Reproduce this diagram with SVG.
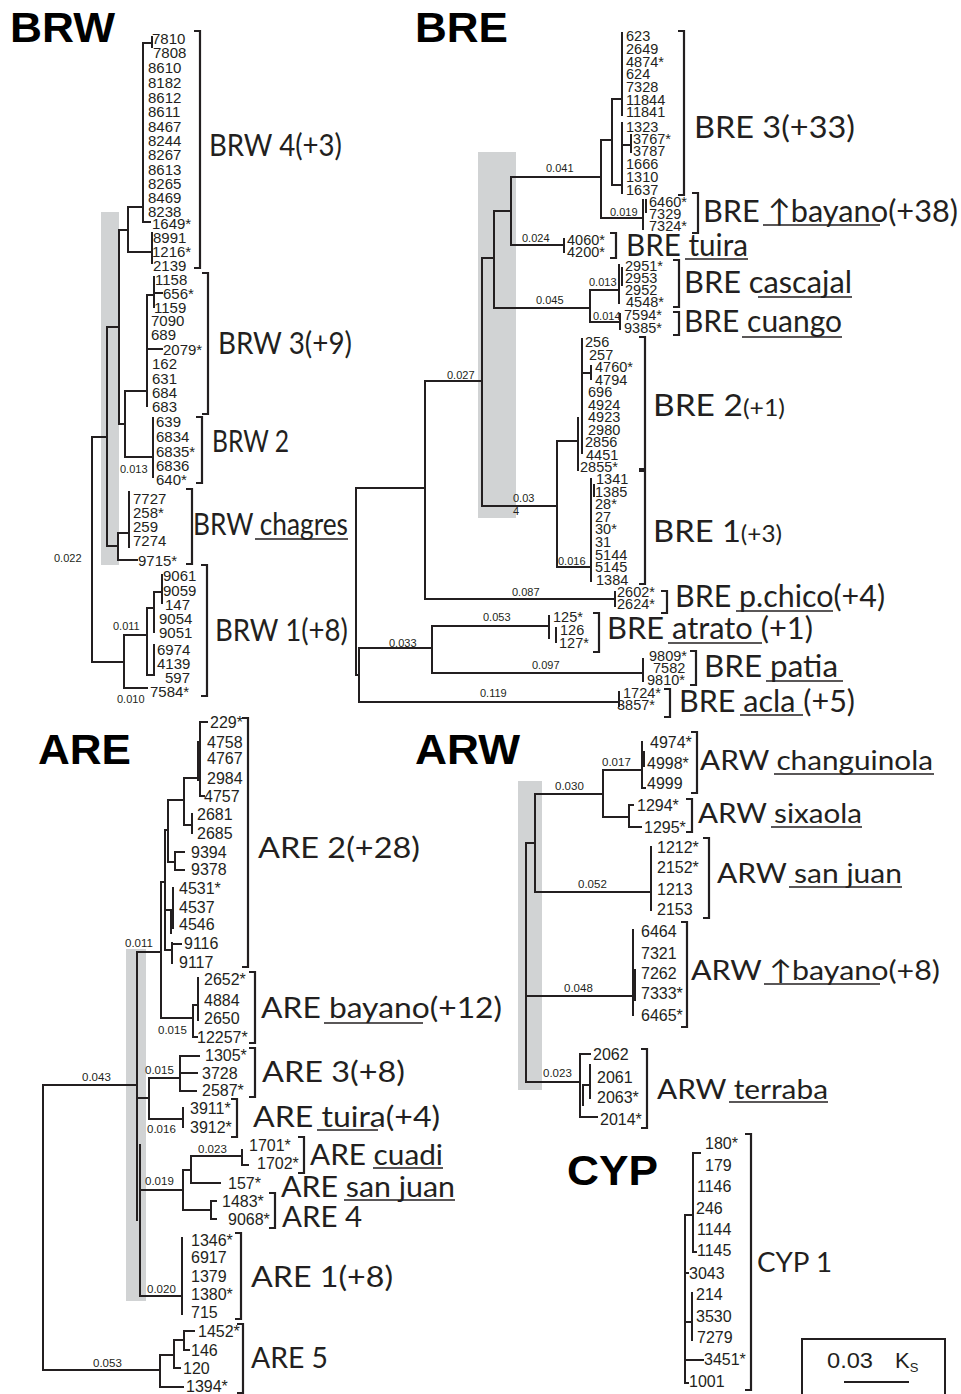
<svg xmlns="http://www.w3.org/2000/svg" width="961" height="1394" viewBox="0 0 961 1394">
<style>
.bg{fill:#ffffff}
.gb{fill:#d1d3d4}
.tr{fill:none;stroke:#231f20;stroke-width:2;stroke-linecap:square}
.br{fill:none;stroke:#231f20;stroke-width:2.2}
.ul{stroke:#231f20;stroke-width:1.6}
.tt{font-family:"Liberation Sans",Arial,sans-serif;font-weight:bold;font-size:42px;fill:#000}
.lf{font-family:"Liberation Sans",Arial,sans-serif;font-size:16px;fill:#231f20}
.lw{font-family:"Liberation Sans",Arial,sans-serif;font-size:15px;fill:#231f20}
.le{font-family:"Liberation Sans",Arial,sans-serif;font-size:14.5px;fill:#231f20}
.bl{font-family:"Liberation Sans",Arial,sans-serif;font-size:11px;fill:#231f20}
.bl2{font-family:"Liberation Sans",Arial,sans-serif;font-size:11.5px;fill:#231f20}
.cl{font-family:Lato,"Open Sans",sans-serif;font-weight:400;font-size:31px;fill:#231f20}
.ca{font-family:Lato,"Open Sans",sans-serif;font-weight:400;font-size:29px;fill:#231f20}
.cw{font-family:Lato,"Open Sans",sans-serif;font-weight:400;font-size:27px;fill:#231f20}
</style>
<rect class="bg" x="0" y="0" width="961" height="1394"/>

<!-- ================= BRW ================= -->
<g id="brw-panel">
<text class="tt" x="10" y="42" textLength="105" lengthAdjust="spacingAndGlyphs">BRW</text>
<rect class="gb" x="101" y="212" width="18" height="353"/>
<g id="brw-connectors">
<path class="tr" d="M92,437V662M92,437H107M92,662H124
M107,327V546M107,327H119M119,230V424M119,230H128M128,207V252M128,207H143M143,43V222M143,43H152M152,37V47M143,222H150M128,252H152M152,233V263
M119,424H125M125,391V457M125,391H147M147,295V406M147,295H154M154,277V307M154,293H162M147,349H162M125,457H153M153,418V477
M107,546H118M118,533V560M118,533H129M129,492V547M118,560H137
M124,635V688M124,635H147M124,688H147M147,608V675M147,608H154M154,592V632M154,592H162M162,575V603M147,675H154M154,645V675"/>
<text class="bl" x="54" y="562">0.022</text>
<text class="bl" x="120" y="473">0.013</text>
<text class="bl" x="113" y="630">0.011</text>
<text class="bl" x="117" y="703">0.010</text>
</g>
<g id="brw4">
<text class="lw" x="152" y="44">7810</text><text class="lw" x="153" y="58">7808</text><text class="lw" x="148" y="73">8610</text><text class="lw" x="148" y="88">8182</text><text class="lw" x="148" y="103">8612</text><text class="lw" x="148" y="117">8611</text><text class="lw" x="148" y="132">8467</text><text class="lw" x="148" y="146">8244</text><text class="lw" x="148" y="160">8267</text><text class="lw" x="148" y="175">8613</text><text class="lw" x="148" y="189">8265</text><text class="lw" x="148" y="203">8469</text><text class="lw" x="148" y="217">8238</text><text class="lw" x="152" y="229">1649*</text><text class="lw" x="153" y="243">8991</text><text class="lw" x="152" y="257">1216*</text><text class="lw" x="153" y="271">2139</text>
<path class="br" d="M194,31H200V268H194"/>
<text class="cl" x="209" y="156" textLength="133" lengthAdjust="spacingAndGlyphs">BRW 4(+3)</text>
</g>
<g id="brw3">
<text class="lw" x="155" y="285">1158</text><text class="lw" x="163" y="299">656*</text><text class="lw" x="154" y="313">1159</text><text class="lw" x="151" y="326">7090</text><text class="lw" x="151" y="340">689</text><text class="lw" x="163" y="355">2079*</text><text class="lw" x="152" y="369">162</text><text class="lw" x="152" y="384">631</text><text class="lw" x="152" y="398">684</text><text class="lw" x="152" y="412">683</text>
<path class="br" d="M202,273H208V414H202"/>
<text class="cl" x="218" y="354" textLength="134" lengthAdjust="spacingAndGlyphs">BRW 3(+9)</text>
</g>
<g id="brw2">
<text class="lw" x="156" y="427">639</text><text class="lw" x="156" y="442">6834</text><text class="lw" x="156" y="457">6835*</text><text class="lw" x="156" y="471">6836</text><text class="lw" x="156" y="485">640*</text>
<path class="br" d="M196,417H202V483H196"/>
<text class="cl" x="212" y="452" textLength="77" lengthAdjust="spacingAndGlyphs">BRW 2</text>
</g>
<g id="brw-chagres">
<text class="lw" x="133" y="504">7727</text><text class="lw" x="133" y="518">258*</text><text class="lw" x="133" y="532">259</text><text class="lw" x="133" y="546">7274</text><text class="lw" x="138" y="566">9715*</text>
<path class="br" d="M186,489H192V564H186"/>
<text class="cl" x="193" y="535" textLength="155" lengthAdjust="spacingAndGlyphs">BRW chagres</text>
<line class="ul" x1="255" y1="539" x2="348" y2="539"/>
</g>
<g id="brw1">
<text class="lw" x="163" y="581">9061</text><text class="lw" x="163" y="596">9059</text><text class="lw" x="165" y="610">147</text><text class="lw" x="159" y="624">9054</text><text class="lw" x="159" y="638">9051</text><text class="lw" x="157" y="655">6974</text><text class="lw" x="157" y="669">4139</text><text class="lw" x="165" y="683">597</text><text class="lw" x="150" y="697">7584*</text>
<path class="br" d="M201,565H207V696H201"/>
<text class="cl" x="215" y="641" textLength="133" lengthAdjust="spacingAndGlyphs">BRW 1(+8)</text>
</g>
</g>

<!-- ================= BRE ================= -->
<g id="bre-panel">
<text class="tt" x="415" y="42" textLength="93" lengthAdjust="spacingAndGlyphs">BRE</text>
<rect class="gb" x="478" y="152" width="38" height="366"/>
<g id="bre-connectors">
<path class="tr" d="M356,488V675M356,488H425M356,675H359M359,648V702M359,648H432M359,702H619
M425,381V599M425,381H482M425,599H615M615,592V606
M482,258V506M482,258H494M482,506H557
M494,211V308M494,211H511M494,308H590
M511,177V245M511,177H601M511,245H564M564,239V252
M601,140V218M601,140H612M601,218H643M643,200V229M646,200V212
M612,99V185M612,99H622M612,185H622M622,33V115M622,123V193M622,145H631M631,135V152
M590,290V322M590,290H619M590,322H620M619,265V303M622,268V285M620,314V329
M557,441V567M557,441H578M557,567H591M578,418V470M582,339V453M582,373H591M591,366V379M591,479V581M594,485V496
M432,626V673M432,626H549M432,673H643M549,616V638M556,628V642M643,659V681
M619,692V706"/>
<text class="bl" x="546" y="172">0.041</text>
<text class="bl" x="610" y="216">0.019</text>
<text class="bl" x="522" y="242">0.024</text>
<text class="bl" x="536" y="304">0.045</text>
<text class="bl" x="589" y="286" font-size="10">0.013</text>
<text class="bl" x="593" y="320" font-size="10">0.014</text>
<text class="bl" x="447" y="379">0.027</text>
<text class="bl" x="513" y="502">0.03</text>
<text class="bl" x="513" y="515">4</text>
<text class="bl" x="558" y="565">0.016</text>
<text class="bl" x="512" y="596">0.087</text>
<text class="bl" x="483" y="621">0.053</text>
<text class="bl" x="389" y="647">0.033</text>
<text class="bl" x="532" y="669">0.097</text>
<text class="bl" x="480" y="697">0.119</text>
</g>
<g id="bre3">
<text class="le" x="626" y="41">623</text><text class="le" x="626" y="54">2649</text><text class="le" x="626" y="67">4874*</text><text class="le" x="626" y="79">624</text><text class="le" x="626" y="92">7328</text><text class="le" x="626" y="105">11844</text><text class="le" x="626" y="117">11841</text><text class="le" x="626" y="132">1323</text><text class="le" x="633" y="144">3767*</text><text class="le" x="633" y="156">3787</text><text class="le" x="626" y="169">1666</text><text class="le" x="626" y="182">1310</text><text class="le" x="626" y="195">1637</text>
<path class="br" d="M678,31H684V195H678"/>
<text class="cl" x="694" y="138" textLength="161" lengthAdjust="spacingAndGlyphs">BRE 3(+33)</text>
</g>
<g id="bre-bayano">
<text class="le" x="649" y="207">6460*</text><text class="le" x="649" y="219">7329</text><text class="le" x="649" y="231">7324*</text>
<path class="br" d="M692,193H698V233H692"/>
<text class="cl" x="703" y="222" textLength="255" lengthAdjust="spacingAndGlyphs">BRE ↑bayano(+38)</text>
<line class="ul" x1="763" y1="225" x2="880" y2="225"/>
</g>
<g id="bre-tuira">
<text class="le" x="567" y="245">4060*</text><text class="le" x="567" y="257">4200*</text>
<path class="br" d="M610,233H616V258H610"/>
<text class="cl" x="626" y="256" textLength="122" lengthAdjust="spacingAndGlyphs">BRE tuira</text>
<line class="ul" x1="685" y1="259" x2="748" y2="259"/>
</g>
<g id="bre-cascajal">
<text class="le" x="625" y="271">2951*</text><text class="le" x="625" y="283">2953</text><text class="le" x="625" y="295">2952</text><text class="le" x="626" y="307">4548*</text>
<path class="br" d="M673,260H679V307H673"/>
<text class="cl" x="684" y="293" textLength="168" lengthAdjust="spacingAndGlyphs">BRE cascajal</text>
<line class="ul" x1="758" y1="297" x2="852" y2="297"/>
</g>
<g id="bre-cuango">
<text class="le" x="624" y="320">7594*</text><text class="le" x="624" y="333">9385*</text>
<path class="br" d="M673,312H679V335H673"/>
<text class="cl" x="684" y="332" textLength="158" lengthAdjust="spacingAndGlyphs">BRE cuango</text>
<line class="ul" x1="742" y1="337" x2="842" y2="337"/>
</g>
<g id="bre2">
<text class="le" x="585" y="347">256</text><text class="le" x="589" y="359.5">257</text><text class="le" x="595" y="372">4760*</text><text class="le" x="595" y="384.5">4794</text><text class="le" x="588" y="397">696</text><text class="le" x="588" y="409.5">4924</text><text class="le" x="588" y="422">4923</text><text class="le" x="588" y="434.5">2980</text><text class="le" x="585" y="447">2856</text><text class="le" x="586" y="459.5">4451</text><text class="le" x="580" y="472">2855*</text>
<path class="br" d="M639,337H645V469H639"/>
<text class="cl" x="653" y="416" textLength="132" lengthAdjust="spacingAndGlyphs">BRE 2<tspan font-size="23">(+1)</tspan></text>
</g>
<g id="bre1">
<text class="le" x="596" y="484">1341</text><text class="le" x="595" y="496.6">1385</text><text class="le" x="595" y="509.2">28*</text><text class="le" x="595" y="521.8">27</text><text class="le" x="595" y="534.4">30*</text><text class="le" x="595" y="547">31</text><text class="le" x="595" y="559.6">5144</text><text class="le" x="595" y="572.2">5145</text><text class="le" x="596" y="584.8">1384</text>
<path class="br" d="M639,471H645V584H639"/>
<text class="cl" x="653" y="542" textLength="129" lengthAdjust="spacingAndGlyphs">BRE 1<tspan font-size="23">(+3)</tspan></text>
</g>
<g id="bre-pchico">
<text class="le" x="617" y="597">2602*</text><text class="le" x="617" y="609">2624*</text>
<path class="br" d="M661,591H667V613H661"/>
<text class="cl" x="675" y="607" textLength="210" lengthAdjust="spacingAndGlyphs">BRE p.chico(+4)</text>
<line class="ul" x1="736" y1="611" x2="833" y2="611"/>
</g>
<g id="bre-atrato">
<text class="le" x="553" y="622">125*</text><text class="le" x="560" y="635">126</text><text class="le" x="559" y="648">127*</text>
<path class="br" d="M593,613H599V652H593"/>
<text class="cl" x="607" y="639" textLength="206" lengthAdjust="spacingAndGlyphs">BRE atrato (+1)</text>
<line class="ul" x1="668" y1="643" x2="762" y2="643"/>
</g>
<g id="bre-patia">
<text class="le" x="649" y="661">9809*</text><text class="le" x="653" y="673">7582</text><text class="le" x="647" y="685">9810*</text>
<path class="br" d="M690,651H696V685H690"/>
<text class="cl" x="704" y="677" textLength="134" lengthAdjust="spacingAndGlyphs">BRE patia</text>
<line class="ul" x1="766" y1="681" x2="843" y2="681"/>
</g>
<g id="bre-acla">
<text class="le" x="623" y="698">1724*</text><text class="le" x="617" y="710">3857*</text>
<path class="br" d="M664,689H670V717H664"/>
<text class="cl" x="679" y="712" textLength="176" lengthAdjust="spacingAndGlyphs">BRE acla (+5)</text>
<line class="ul" x1="740" y1="715" x2="803" y2="715"/>
</g>
</g>

<!-- ================= ARE ================= -->
<g id="are-panel">
<text class="tt" x="38" y="764" textLength="93" lengthAdjust="spacingAndGlyphs">ARE</text>
<rect class="gb" x="126" y="949" width="20" height="352"/>
<g id="are-connectors">
<path class="tr" d="M43,1085V1370M43,1085H137M43,1370H160
M160,1355V1387M160,1355H174M174,1340V1368M174,1340H184M184,1331V1350M184,1331H194M184,1350H189M174,1368H180M160,1387H183
M137,952V1220M140,1145V1296M137,952H161M161,882V1018M161,882H165M165,830V950
M165,830H168M168,800V862M168,800H184M184,778V825M184,778H200M200,722V796M200,722H207M200,796H204M198,742V780M184,825H192M192,814V833
M168,862H175M175,852V870M175,852H184M175,870H184
M165,910H173M173,888V928M171,912V933M165,950H172M172,943V963M172,944H181
M161,1018H193M193,1005V1037M193,1037H197M193,1005H198M198,978V1020
M137,1098H149M149,1078V1119M149,1078H180M180,1056V1091M180,1056H199M180,1073H197M180,1091H196M149,1119H183M183,1108V1127
M140,1190H183M183,1170V1210M183,1170H191M191,1156V1183M191,1156H242M242,1150V1165M242,1165H248M191,1183H220M183,1210H211M211,1201V1219M211,1201H216M211,1219H216
M140,1296H182M182,1238V1314"/>
<text class="bl2" x="125" y="947">0.011</text>
<text class="bl2" x="158" y="1034">0.015</text>
<text class="bl2" x="82" y="1081">0.043</text>
<text class="bl2" x="145" y="1074">0.015</text>
<text class="bl2" x="147" y="1133">0.016</text>
<text class="bl2" x="198" y="1153">0.023</text>
<text class="bl2" x="145" y="1185">0.019</text>
<text class="bl2" x="147" y="1293">0.020</text>
<text class="bl2" x="93" y="1367">0.053</text>
</g>
<g id="are2">
<text class="lf" x="210" y="728">229*</text><text class="lf" x="207" y="748">4758</text><text class="lf" x="207" y="764">4767</text><text class="lf" x="207" y="784">2984</text><text class="lf" x="204" y="802">4757</text><text class="lf" x="197" y="820">2681</text><text class="lf" x="197" y="839">2685</text><text class="lf" x="191" y="858">9394</text><text class="lf" x="191" y="875">9378</text><text class="lf" x="179" y="894">4531*</text><text class="lf" x="179" y="913">4537</text><text class="lf" x="179" y="930">4546</text><text class="lf" x="184" y="949">9116</text><text class="lf" x="179" y="968">9117</text>
<path class="br" d="M242,718H248V967H242"/>
<text class="ca" x="258" y="858" textLength="162" lengthAdjust="spacingAndGlyphs">ARE 2(+28)</text>
</g>
<g id="are-bayano">
<text class="lf" x="204" y="985">2652*</text><text class="lf" x="204" y="1006">4884</text><text class="lf" x="204" y="1024">2650</text><text class="lf" x="197" y="1043">12257*</text>
<path class="br" d="M249,972H255V1043H249"/>
<text class="ca" x="261" y="1018" textLength="241" lengthAdjust="spacingAndGlyphs">ARE bayano(+12)</text>
<line class="ul" x1="324" y1="1023" x2="423" y2="1023"/>
</g>
<g id="are3">
<text class="lf" x="205" y="1061">1305*</text><text class="lf" x="202" y="1079">3728</text><text class="lf" x="202" y="1096">2587*</text>
<path class="br" d="M249,1048H255V1097H249"/>
<text class="ca" x="262" y="1082" textLength="143" lengthAdjust="spacingAndGlyphs">ARE 3(+8)</text>
</g>
<g id="are-tuira">
<text class="lf" x="190" y="1114">3911*</text><text class="lf" x="190" y="1133">3912*</text>
<path class="br" d="M231,1099H237V1137H231"/>
<text class="ca" x="253" y="1127" textLength="187" lengthAdjust="spacingAndGlyphs">ARE tuira(+4)</text>
<line class="ul" x1="317" y1="1130" x2="378" y2="1130"/>
</g>
<g id="are-cuadi">
<text class="lf" x="249" y="1151">1701*</text><text class="lf" x="257" y="1169">1702*</text>
<path class="br" d="M298,1137H304V1173H298"/>
<text class="ca" x="310" y="1165" textLength="133" lengthAdjust="spacingAndGlyphs">ARE cuadi</text>
<line class="ul" x1="373" y1="1168" x2="443" y2="1168"/>
</g>
<g id="are-sanjuan">
<text class="lf" x="228" y="1189">157*</text>
<text class="ca" x="281" y="1197" textLength="174" lengthAdjust="spacingAndGlyphs">ARE san juan</text>
<line class="ul" x1="344" y1="1200" x2="455" y2="1200"/>
</g>
<g id="are4">
<text class="lf" x="222" y="1207">1483*</text><text class="lf" x="228" y="1225">9068*</text>
<path class="br" d="M269,1193H275V1228H269"/>
<text class="ca" x="282" y="1227" textLength="80" lengthAdjust="spacingAndGlyphs">ARE 4</text>
</g>
<g id="are1">
<text class="lf" x="191" y="1246">1346*</text><text class="lf" x="191" y="1263">6917</text><text class="lf" x="191" y="1282">1379</text><text class="lf" x="191" y="1300">1380*</text><text class="lf" x="191" y="1318">715</text>
<path class="br" d="M235,1233H241V1319H235"/>
<text class="ca" x="251" y="1287" textLength="142" lengthAdjust="spacingAndGlyphs">ARE 1(+8)</text>
</g>
<g id="are5">
<text class="lf" x="198" y="1337">1452*</text><text class="lf" x="191" y="1356">146</text><text class="lf" x="183" y="1374">120</text><text class="lf" x="186" y="1392">1394*</text>
<path class="br" d="M237,1324H243V1393H237"/>
<text class="ca" x="251" y="1368" textLength="77" lengthAdjust="spacingAndGlyphs">ARE 5</text>
</g>
</g>

<!-- ================= ARW ================= -->
<g id="arw-panel">
<text class="tt" x="415" y="764" textLength="105" lengthAdjust="spacingAndGlyphs">ARW</text>
<rect class="gb" x="518" y="781" width="24" height="309"/>
<g id="arw-connectors">
<path class="tr" d="M526,843V1082M526,843H535M535,794V892M535,794H603M603,770V817M603,770H642M642,742V788M644,752V766M642,788H645M603,817H629M629,805V827M629,805H633M629,827H641
M535,892H650M651,847V910
M526,996H632M633,930V1015M635,970V1000
M526,1082H580M580,1054V1117M580,1054H590M580,1117H597M583,1085V1105M590,1065V1098M583,1085H590"/>
<text class="bl2" x="602" y="766">0.017</text>
<text class="bl2" x="555" y="790">0.030</text>
<text class="bl2" x="578" y="888">0.052</text>
<text class="bl2" x="564" y="992">0.048</text>
<text class="bl2" x="543" y="1077">0.023</text>
</g>
<g id="arw-changuinola">
<text class="lf" x="650" y="748">4974*</text><text class="lf" x="647" y="769">4998*</text><text class="lf" x="647" y="789">4999</text>
<path class="br" d="M691,732H697V793H691"/>
<text class="cw" x="700" y="770" textLength="233" lengthAdjust="spacingAndGlyphs">ARW changuinola</text>
<line class="ul" x1="774" y1="774" x2="934" y2="774"/>
</g>
<g id="arw-sixaola">
<text class="lf" x="637" y="811">1294*</text><text class="lf" x="644" y="833">1295*</text>
<path class="br" d="M686,799H692V832H686"/>
<text class="cw" x="698" y="823" textLength="164" lengthAdjust="spacingAndGlyphs">ARW sixaola</text>
<line class="ul" x1="771" y1="827" x2="862" y2="827"/>
</g>
<g id="arw-sanjuan">
<text class="lf" x="657" y="853">1212*</text><text class="lf" x="657" y="873">2152*</text><text class="lf" x="657" y="895">1213</text><text class="lf" x="657" y="915">2153</text>
<path class="br" d="M703,838H709V918H703"/>
<text class="cw" x="717" y="883" textLength="185" lengthAdjust="spacingAndGlyphs">ARW san juan</text>
<line class="ul" x1="789" y1="887" x2="902" y2="887"/>
</g>
<g id="arw-bayano">
<text class="lf" x="641" y="937">6464</text><text class="lf" x="641" y="959">7321</text><text class="lf" x="641" y="979">7262</text><text class="lf" x="641" y="999">7333*</text><text class="lf" x="641" y="1021">6465*</text>
<path class="br" d="M681,922H687V1027H681"/>
<text class="cw" x="691" y="980" textLength="249" lengthAdjust="spacingAndGlyphs">ARW ↑bayano(+8)</text>
<line class="ul" x1="764" y1="984" x2="880" y2="984"/>
</g>
<g id="arw-terraba">
<text class="lf" x="593" y="1060">2062</text><text class="lf" x="597" y="1083">2061</text><text class="lf" x="597" y="1103">2063*</text><text class="lf" x="600" y="1125">2014*</text>
<path class="br" d="M641,1049H647V1128H641"/>
<text class="cw" x="657" y="1099" textLength="171" lengthAdjust="spacingAndGlyphs">ARW terraba</text>
<line class="ul" x1="729" y1="1102" x2="828" y2="1102"/>
</g>
</g>

<!-- ================= CYP ================= -->
<g id="cyp-panel">
<text class="tt" x="567" y="1185" font-size="39" textLength="91" lengthAdjust="spacingAndGlyphs">CYP</text>
<g id="cyp-connectors">
<path class="tr" d="M685,1215V1383M685,1215H693M693,1153V1252M693,1153H700M693,1252H696M685,1273H688M685,1322H692M692,1293V1340M685,1360H703M685,1383H688"/>
</g>
<g id="cyp1">
<text class="lf" x="705" y="1149">180*</text><text class="lf" x="705" y="1171">179</text><text class="lf" x="697" y="1192">1146</text><text class="lf" x="696" y="1214">246</text><text class="lf" x="697" y="1235">1144</text><text class="lf" x="697" y="1256">1145</text><text class="lf" x="689" y="1279">3043</text><text class="lf" x="696" y="1300">214</text><text class="lf" x="696" y="1322">3530</text><text class="lf" x="697" y="1343">7279</text><text class="lf" x="704" y="1365">3451*</text><text class="lf" x="689" y="1387">1001</text>
<path class="br" d="M745,1134H751V1390H745"/>
<text class="cw" x="757" y="1272" font-size="23" textLength="75" lengthAdjust="spacingAndGlyphs">CYP 1</text>
</g>
</g>

<!-- scale -->
<g id="scale">
<rect x="802" y="1339" width="143" height="62" fill="none" stroke="#231f20" stroke-width="2"/>
<text x="827" y="1368" font-family="Liberation Sans, Arial, sans-serif" font-size="22" fill="#231f20" textLength="46" lengthAdjust="spacingAndGlyphs">0.03</text>
<text x="895" y="1368" font-family="Liberation Sans, Arial, sans-serif" font-size="22" fill="#231f20">K<tspan font-size="13" dy="4">S</tspan></text>
<line x1="844" y1="1382" x2="909" y2="1382" stroke="#231f20" stroke-width="2"/>
</g>
</svg>
